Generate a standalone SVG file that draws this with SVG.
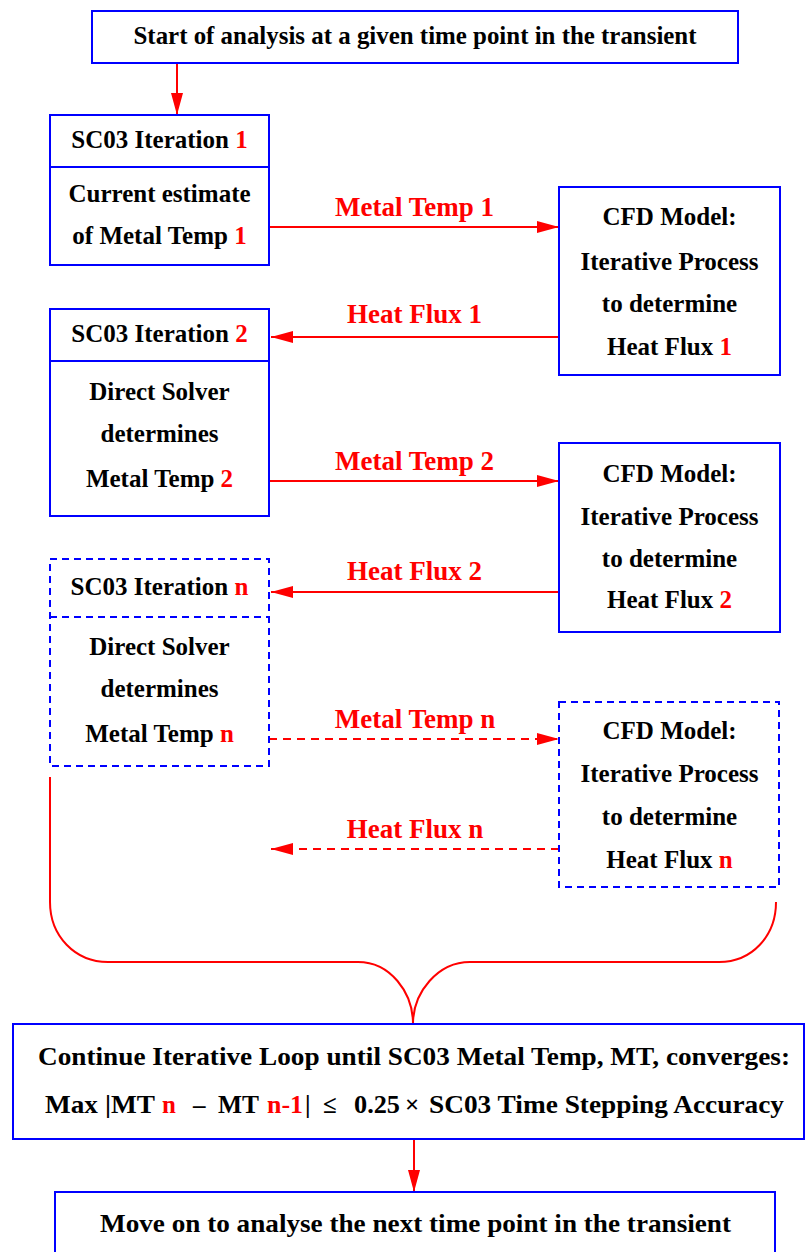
<svg xmlns="http://www.w3.org/2000/svg" width="805" height="1252" viewBox="0 0 805 1252">
<style>
.box{fill:#fff;stroke:#0000ff;stroke-width:2}
.dash{fill:#fff;stroke:#0000ff;stroke-width:2;stroke-dasharray:7,5}
.div{stroke:#0000ff;stroke-width:2}
.divd{stroke:#0000ff;stroke-width:2;stroke-dasharray:7,5}
text{font-family:'Liberation Serif', serif;font-weight:bold;font-size:25px;fill:#000}
.c{text-anchor:middle}
.r{fill:#ff0000}
.lbl{fill:#ff0000;text-anchor:middle;font-size:27px}
.ln{stroke:#ff0000;stroke-width:2;fill:none}
.lnd{stroke:#ff0000;stroke-width:2;fill:none;stroke-dasharray:8,6}
</style>
<defs>
<marker id="ah" markerWidth="22" markerHeight="12" refX="22" refY="6" orient="auto" markerUnits="userSpaceOnUse">
<path d="M0,0 L22,6 L0,12 Z" fill="#ff0000"/>
</marker>
</defs>
<rect width="805" height="1252" fill="#fff"/>

<g id="connectors">
<line class="ln" x1="177" y1="63" x2="177" y2="115" marker-end="url(#ah)"/>
<line class="ln" x1="269" y1="227" x2="559" y2="227" marker-end="url(#ah)"/>
<line class="ln" x1="559" y1="337" x2="271" y2="337" marker-end="url(#ah)"/>
<line class="ln" x1="269" y1="481" x2="559" y2="481" marker-end="url(#ah)"/>
<line class="ln" x1="559" y1="592" x2="271" y2="592" marker-end="url(#ah)"/>
<line class="lnd" x1="269" y1="739" x2="559" y2="739" marker-end="url(#ah)"/>
<line class="lnd" x1="559" y1="849" x2="271" y2="849" marker-end="url(#ah)"/>
<path class="ln" d="M50,777 V902 C50,936 75,962 108,962 H358 C390,962 413,992 413,1024 C413,992 438,962 470,962 H719 C752,962 776,936 776,902"/>
<line class="ln" x1="414" y1="1139" x2="414" y2="1192" marker-end="url(#ah)"/>
<text class="lbl" x="414.5" y="216">Metal Temp 1</text>
<text class="lbl" x="414.5" y="323">Heat Flux 1</text>
<text class="lbl" x="414.5" y="470">Metal Temp 2</text>
<text class="lbl" x="414.5" y="580">Heat Flux 2</text>
<text class="lbl" x="415" y="728">Metal Temp n</text>
<text class="lbl" x="415" y="838">Heat Flux n</text>
</g>

<g id="start">
<rect class="box" x="92" y="11" width="646" height="52"/>
<text class="c" x="415" y="44" textLength="563" lengthAdjust="spacingAndGlyphs">Start of analysis at a given time point in the transient</text>
</g>

<g id="sc03-1">
<rect class="box" x="50" y="115" width="219" height="150"/>
<line class="div" x1="50" y1="167" x2="269" y2="167"/>
<text class="c" x="159.5" y="148">SC03 Iteration <tspan class="r">1</tspan></text>
<text class="c" x="159.5" y="202">Current estimate</text>
<text class="c" x="159.5" y="244">of Metal Temp <tspan class="r">1</tspan></text>
</g>

<g id="cfd-1">
<rect class="box" x="559" y="187" width="221" height="188"/>
<text class="c" x="669.5" y="225">CFD Model:</text>
<text class="c" x="669.5" y="270">Iterative Process</text>
<text class="c" x="669.5" y="312">to determine</text>
<text class="c" x="669.5" y="355">Heat Flux <tspan class="r">1</tspan></text>
</g>

<g id="sc03-2">
<rect class="box" x="50" y="309" width="219" height="207"/>
<line class="div" x1="50" y1="361" x2="269" y2="361"/>
<text class="c" x="159.5" y="342">SC03 Iteration <tspan class="r">2</tspan></text>
<text class="c" x="159.5" y="400">Direct Solver</text>
<text class="c" x="159.5" y="442">determines</text>
<text class="c" x="159.5" y="487">Metal Temp <tspan class="r">2</tspan></text>
</g>

<g id="cfd-2">
<rect class="box" x="559" y="443" width="221" height="189"/>
<text class="c" x="669.5" y="482">CFD Model:</text>
<text class="c" x="669.5" y="525">Iterative Process</text>
<text class="c" x="669.5" y="567">to determine</text>
<text class="c" x="669.5" y="608">Heat Flux <tspan class="r">2</tspan></text>
</g>

<g id="sc03-n">
<rect class="dash" x="50" y="559" width="219" height="207"/>
<line class="divd" x1="50" y1="617" x2="269" y2="617"/>
<text class="c" x="159.5" y="595">SC03 Iteration <tspan class="r">n</tspan></text>
<text class="c" x="159.5" y="655">Direct Solver</text>
<text class="c" x="159.5" y="697">determines</text>
<text class="c" x="159.5" y="742">Metal Temp <tspan class="r">n</tspan></text>
</g>

<g id="cfd-n">
<rect class="dash" x="559" y="702" width="220" height="185"/>
<text class="c" x="669.5" y="739">CFD Model:</text>
<text class="c" x="669.5" y="782">Iterative Process</text>
<text class="c" x="669.5" y="825">to determine</text>
<text class="c" x="669.5" y="868">Heat Flux <tspan class="r">n</tspan></text>
</g>

<g id="converge">
<rect class="box" x="13" y="1024" width="791" height="115"/>
<text x="38" y="1065" textLength="752" lengthAdjust="spacingAndGlyphs">Continue Iterative Loop until SC03 Metal Temp, MT, converges:</text>
<text y="1113"><tspan x="45" textLength="53" lengthAdjust="spacingAndGlyphs">Max</tspan><tspan x="105" textLength="50" lengthAdjust="spacingAndGlyphs">|MT</tspan><tspan x="162" class="r">n</tspan><tspan x="193">&#8211;</tspan><tspan x="218" textLength="41" lengthAdjust="spacingAndGlyphs">MT</tspan><tspan x="267" class="r" textLength="36" lengthAdjust="spacingAndGlyphs">n-1</tspan><tspan x="305">|</tspan><tspan x="323">&#8804;</tspan><tspan x="354" textLength="46" lengthAdjust="spacingAndGlyphs">0.25</tspan><tspan x="405">&#215;</tspan><tspan x="429" textLength="355" lengthAdjust="spacingAndGlyphs">SC03 Time Stepping Accuracy</tspan></text>
</g>

<g id="next">
<rect class="box" x="55" y="1192" width="720" height="80"/>
<text x="100" y="1232" textLength="631" lengthAdjust="spacingAndGlyphs">Move on to analyse the next time point in the transient</text>
</g>
</svg>
